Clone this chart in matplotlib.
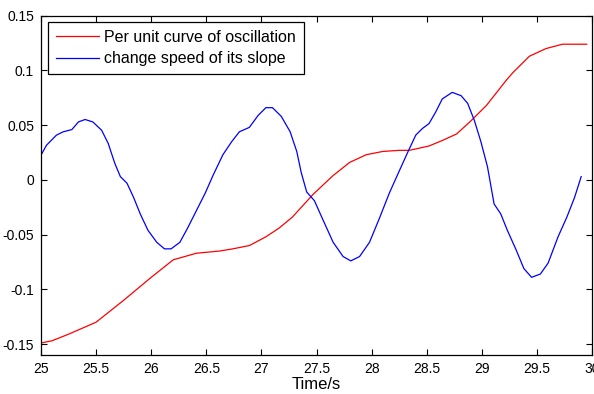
import numpy as np
import matplotlib
matplotlib.use('Agg')
import matplotlib.pyplot as plt

plt.rcParams['font.family'] = ['Liberation Sans', 'DejaVu Sans']

# values
t_red = [25.0, 25.1, 25.25, 25.5, 25.75, 26.0, 26.2, 26.41, 26.62, 26.74, 26.89, 27.04,
         27.16, 27.28, 27.47, 27.65, 27.80, 27.95, 28.10, 28.25, 28.34, 28.52, 28.64,
         28.77, 28.89, 29.04, 29.22, 29.28, 29.43, 29.58, 29.73, 29.95]
y_red = [-0.149, -0.147, -0.141, -0.130, -0.110, -0.089, -0.073, -0.067, -0.065, -0.063,
         -0.060, -0.052, -0.044, -0.034, -0.013, 0.004, 0.016, 0.023, 0.026, 0.027, 0.027,
         0.031, 0.036, 0.042, 0.053, 0.068, 0.091, 0.098, 0.113, 0.120, 0.124, 0.124]

t_blue = [25.0, 25.05, 25.14, 25.20, 25.28, 25.34, 25.40, 25.47, 25.55, 25.61, 25.67,
          25.72, 25.78, 25.84, 25.90, 25.97, 26.05, 26.12, 26.18, 26.26, 26.33, 26.41,
          26.49, 26.56, 26.65, 26.73, 26.80, 26.89, 26.97, 27.04, 27.10, 27.18, 27.26,
          27.32, 27.36, 27.41, 27.48, 27.56, 27.65, 27.74, 27.81, 27.89, 27.98, 28.07,
          28.16, 28.24, 28.33, 28.40, 28.46, 28.52, 28.58, 28.64, 28.73, 28.81, 28.87,
          28.93, 28.99, 29.05, 29.11, 29.17, 29.23, 29.31, 29.38, 29.45, 29.53, 29.60,
          29.69, 29.77, 29.84, 29.90]
y_blue = [0.0226, 0.0317, 0.0409, 0.0439, 0.046, 0.053, 0.0552, 0.053, 0.0454, 0.0333,
          0.015, 0.003, -0.003, -0.016, -0.031, -0.046, -0.057, -0.063, -0.063, -0.057,
          -0.044, -0.028, -0.012, 0.004, 0.023, 0.035, 0.044, 0.048, 0.059, 0.066, 0.066,
          0.058, 0.044, 0.026, 0.007, -0.011, -0.019, -0.037, -0.057, -0.070, -0.074,
          -0.070, -0.057, -0.035, -0.012, 0.006, 0.026, 0.041, 0.047, 0.0515, 0.062,
          0.074, 0.080, 0.077, 0.070, 0.0546, 0.035, 0.012, -0.022, -0.031, -0.046,
          -0.064, -0.081, -0.089, -0.086, -0.076, -0.052, -0.034, -0.016, 0.003]

fig = plt.figure(figsize=(5.94, 3.94), dpi=100)
ax = fig.add_axes([0.069, 0.099, 0.928, 0.861])
ax.plot(t_red, y_red, '-', color='#ff0000', lw=0.9, label='Per unit curve of oscillation')
ax.plot(t_blue, y_blue, '-', color='#0000ff', lw=0.9, label='change speed of its slope')

ax.set_xlim(25, 30)
ax.set_ylim(-0.16, 0.15)
ax.set_xticks(np.arange(25, 30.01, 0.5))
ax.set_xticklabels(['25', '25.5', '26', '26.5', '27', '27.5', '28', '28.5', '29', '29.5', '30'])
ax.set_yticks([-0.15, -0.1, -0.05, 0, 0.05, 0.1, 0.15])
ax.set_yticklabels(['-0.15', '-0.1', '-0.05', '0', '0.05', '0.1', '0.15'])
ax.tick_params(direction='in', top=True, right=True, length=4, width=0.8,
               labelsize=10, pad=5)
for s in ax.spines.values():
    s.set_linewidth(0.9)
ax.set_xlabel('Time/s', fontsize=12, labelpad=1)

leg = ax.legend(loc='upper left', bbox_to_anchor=(0.0125, 0.982), fontsize=11.5,
                fancybox=False, edgecolor='black', framealpha=1, borderpad=0.5,
                handlelength=2.7, handletextpad=0.3, labelspacing=0.4, borderaxespad=0)
leg.get_frame().set_linewidth(0.9)

fig.savefig('out.png', dpi=100)
